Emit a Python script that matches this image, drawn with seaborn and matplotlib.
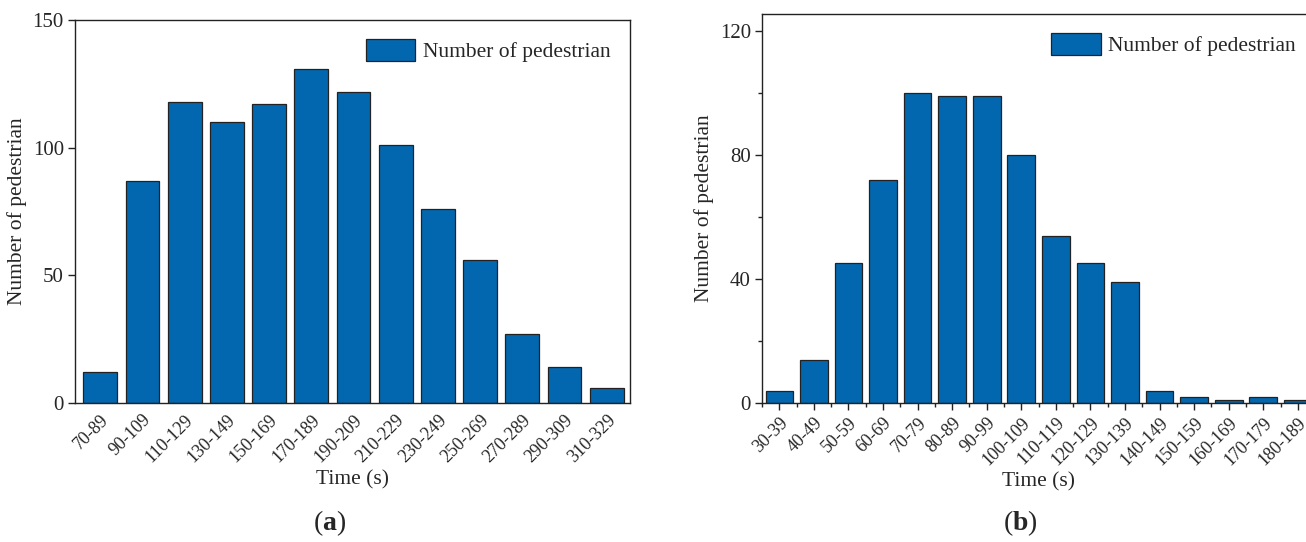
import matplotlib
matplotlib.use("Agg")
import matplotlib.pyplot as plt
from matplotlib.ticker import MultipleLocator, FixedLocator
import seaborn as sns
import pandas as pd

# Pedestrian counts per time interval, two scenarios
bins_a = ["70-89", "90-109", "110-129", "130-149", "150-169", "170-189", "190-209",
          "210-229", "230-249", "250-269", "270-289", "290-309", "310-329"]
counts_a = [12, 87, 118, 110, 117, 131, 122, 101, 76, 56, 27, 14, 6]

bins_b = ["30-39", "40-49", "50-59", "60-69", "70-79", "80-89", "90-99", "100-109",
          "110-119", "120-129", "130-139", "140-149", "150-159", "160-169",
          "170-179", "180-189"]
counts_b = [4, 14, 45, 72, 100, 99, 99, 80, 54, 45, 39, 4, 2, 1, 2, 1]

legend_label = "Number of pedestrian"
bar_color = "#0267AE"

sns.set_theme(style="ticks")
plt.rcParams["font.family"] = ["Liberation Serif", "DejaVu Serif"]
plt.rcParams["mathtext.fontset"] = "custom"
plt.rcParams["mathtext.rm"] = "Liberation Serif"
plt.rcParams["mathtext.bf"] = "Liberation Serif:bold"

fig = plt.figure(figsize=(13.06, 5.42), dpi=100)
ax_a = fig.add_axes([0.0574, 0.2565, 0.4250, 0.7065])
ax_b = fig.add_axes([0.5835, 0.2565, 0.4235, 0.7177])

df_a = pd.DataFrame({"bin": bins_a, "count": counts_a})
df_b = pd.DataFrame({"bin": bins_b, "count": counts_b})

for ax, df in ((ax_a, df_a), (ax_b, df_b)):
    sns.barplot(data=df, x="bin", y="count", ax=ax, color=bar_color,
                saturation=1, width=0.8, edgecolor="#222222", linewidth=0.9,
                label=legend_label)
    for side in ("top", "right", "left", "bottom"):
        ax.spines[side].set_visible(True)
        ax.spines[side].set_color("#222222")
        ax.spines[side].set_linewidth(1.0)
    ax.set_xlabel("Time (s)", fontsize=15.5, labelpad=3)
    ax.set_ylabel("Number of pedestrian", fontsize=15.5, labelpad=4)
    ax.tick_params(axis="y", labelsize=15, direction="out", length=5,
                   width=1, color="#222222", pad=3)
    plt.setp(ax.get_xticklabels(), rotation=45, ha="right",
             rotation_mode="anchor", fontsize=13)
    leg = ax.legend(loc="upper right", frameon=False, fontsize=15.5,
                    handlelength=2.3, handleheight=1.15, handletextpad=0.35,
                    borderaxespad=0.5)

# Panel (a)
ax_a.set_xlim(-0.6, len(bins_a) - 0.45)
ax_a.set_ylim(0, 150)
ax_a.yaxis.set_major_locator(MultipleLocator(50))
ax_a.tick_params(axis="x", length=0, pad=6)

# Panel (b)
ax_b.set_xlim(-0.5, len(bins_b) - 0.5)
ax_b.set_ylim(0, 125.5)
ax_b.yaxis.set_major_locator(MultipleLocator(40))
ax_b.yaxis.set_minor_locator(MultipleLocator(20))
ax_b.xaxis.set_minor_locator(FixedLocator([i + 0.5 for i in range(-1, len(bins_b))]))
ax_b.tick_params(axis="x", which="major", direction="out", length=5, width=1,
                 color="#222222", pad=3)
ax_b.tick_params(axis="x", which="minor", direction="out", length=3, width=1,
                 color="#222222")
ax_b.tick_params(axis="y", which="minor", direction="out", length=3, width=1,
                 color="#222222")

# Panel captions
fig.text(0.2527, 0.035, r"($\mathbf{a}$)", fontsize=20, ha="center", va="center")
fig.text(0.781, 0.035, r"($\mathbf{b}$)", fontsize=20, ha="center", va="center")

fig.savefig("out.png", dpi=100)
